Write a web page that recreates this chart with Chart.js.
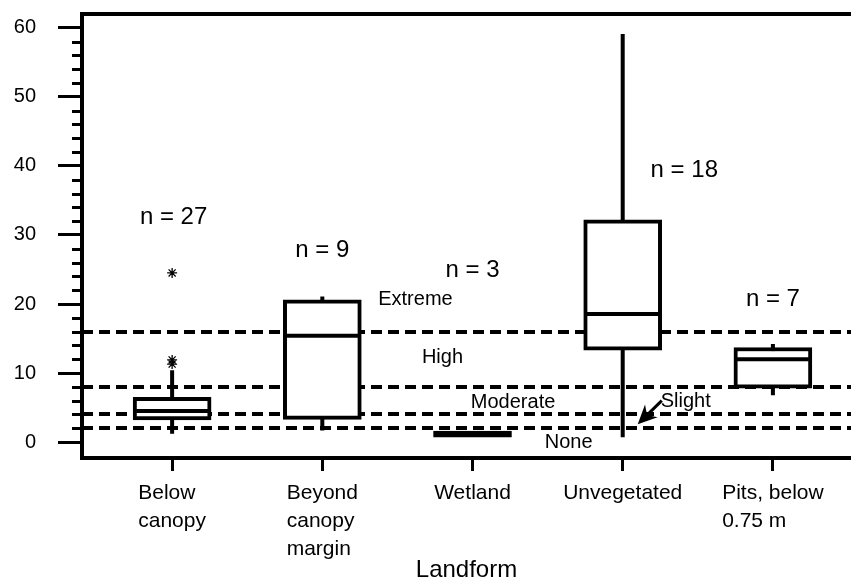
<!DOCTYPE html>
<html><head><meta charset="utf-8">
<script src="https://cdn.jsdelivr.net/npm/chart.js@4.4.1/dist/chart.umd.min.js"></script>
<style>html,body{margin:0;padding:0;background:#fff}#wrap{width:851px;height:588px;position:relative}canvas{display:block}</style>
</head><body><div id="wrap"><canvas id="c" width="851" height="588" style="width:851px;height:588px"></canvas></div>
<script>
// ---- data ----
const categories = [["Below","canopy"],["Beyond","canopy","margin"],["Wetland"],["Unvegetated"],["Pits, below","0.75 m"]];
const sampleSizes = [27, 9, 3, 18, 7];
const whiskerLow  = [1.2, 1.7, 0.8, 0.7, 6.8];
const quartile1   = [3.2, 3.3, 0.7, 13.3, 7.8];
const medians     = [4.5, 15.4, 1.2, 18.55, 12.0];
const quartile3   = [6.5, 20.6, 1.6, 32.2, 13.7];
const whiskerHigh = [10.4, 21.1, 1.6, 59.1, 14.2];
const outlierCategory = [1, 1, 1];
const outlierValues   = [11.3, 11.9, 24.5];
const thresholds  = [2, 4, 8, 16];
const levelNames  = ["None", "Slight", "Moderate", "High", "Extreme"];
const yTickValues = [0, 10, 20, 30, 40, 50, 60];

// ---- placement of annotations (in axis units) ----
const nLabelPos = [[1.01, 32.5], [2, 27.7], [3, 24.9], [4.41, 39.4], [5, 20.6]];
const levelLabelPos = [[3.64, 0], [4.42, 5.85], [3.27, 5.8], [2.80, 12.3], [2.62, 20.6]];
const arrowFrom = [4.26, 6.0], arrowTo = [4.10, 2.6];

const FONT = '"Liberation Sans", Arial, Helvetica, sans-serif';
const X_MIN = 0.4, X_MAX = 5.52, Y_MIN = -2.3, Y_MAX = 62;

const idx = categories.map((c, i) => i + 1);

const whiskerData = [];
idx.forEach((x, i) => {
  whiskerData.push({x, y: whiskerLow[i]}, {x, y: whiskerHigh[i]}, {x, y: null});
});

const noPad = s => { s.paddingTop = 0; s.paddingBottom = 0; s.paddingLeft = 0; s.paddingRight = 0; };

const annotPlugin = {
  id: 'annot',
  afterDraw(chart) {
    const {ctx, scales: {x, y}, chartArea} = chart;
    ctx.save();
    ctx.fillStyle = '#000';
    ctx.strokeStyle = '#000';
    ctx.lineWidth = 3;
    for (let v = 2; v < 61; v += 2) {
      if (v % 10 === 0) continue;
      const py = Math.round(y.getPixelForValue(v)) + 0.5;
      ctx.beginPath();
      ctx.moveTo(chartArea.left - 10, py);
      ctx.lineTo(chartArea.left, py);
      ctx.stroke();
    }
    ctx.font = '21px ' + FONT;
    ctx.textBaseline = 'middle';
    ctx.textAlign = 'left';
    categories.forEach((lines, i) => {
      const px = x.getPixelForValue(idx[i]);
      const w = Math.max(...lines.map(l => ctx.measureText(l).width));
      lines.forEach((l, k) => {
        ctx.fillText(l, px - w / 2, chartArea.bottom + 35 + k * 28);
      });
    });
    ctx.textAlign = 'center';
    ctx.font = '24px ' + FONT;
    sampleSizes.forEach((n, i) => {
      ctx.fillText('n = ' + n, x.getPixelForValue(nLabelPos[i][0]), y.getPixelForValue(nLabelPos[i][1]));
    });
    ctx.font = '20px ' + FONT;
    levelNames.forEach((t, i) => {
      ctx.fillText(t, x.getPixelForValue(levelLabelPos[i][0]), y.getPixelForValue(levelLabelPos[i][1]));
    });
    const x0 = x.getPixelForValue(arrowFrom[0]), y0 = y.getPixelForValue(arrowFrom[1]);
    const x1 = x.getPixelForValue(arrowTo[0]), y1 = y.getPixelForValue(arrowTo[1]);
    const ang = Math.atan2(y1 - y0, x1 - x0);
    ctx.lineWidth = 3;
    ctx.beginPath();
    ctx.moveTo(x0, y0);
    ctx.lineTo(x1 - 8 * Math.cos(ang), y1 - 8 * Math.sin(ang));
    ctx.stroke();
    const L = 19, W = 9;
    const bx = x1 - L * Math.cos(ang), by = y1 - L * Math.sin(ang);
    const nx = x1 - (L - 6) * Math.cos(ang), ny = y1 - (L - 6) * Math.sin(ang);
    ctx.beginPath();
    ctx.moveTo(x1, y1);
    ctx.lineTo(bx + W * Math.sin(ang), by - W * Math.cos(ang));
    ctx.lineTo(nx, ny);
    ctx.lineTo(bx - W * Math.sin(ang), by + W * Math.cos(ang));
    ctx.closePath();
    ctx.fill();
    ctx.restore();
  }
};

new Chart(document.getElementById('c'), {
  type: 'bar',
  data: {
    datasets: [
      {
        type: 'scatter', label: 'outliers', order: 0,
        data: outlierValues.map((v, i) => ({x: outlierCategory[i], y: v})),
        pointStyle: 'star', pointRadius: 5, borderColor: '#000', borderWidth: 1.3, backgroundColor: '#000'
      },
      {
        type: 'scatter', label: 'median', order: 1,
        data: medians.map((v, i) => ({x: idx[i], y: v})),
        pointStyle: 'line', pointRadius: 36, borderColor: '#000', borderWidth: 4
      },
      {
        type: 'bar', label: 'box', order: 2,
        data: quartile1.map((v, i) => ({x: idx[i], y: [v, quartile3[i]]})),
        backgroundColor: '#fff', borderColor: '#000', borderWidth: 4, borderSkipped: false,
        barThickness: 78
      },
      {
        type: 'line', label: 'whiskers', order: 3,
        data: whiskerData, borderColor: '#000', borderWidth: 4, pointRadius: 0, spanGaps: false, fill: false
      }
    ]
  },
  options: {
    responsive: false,
    animation: false,
    events: [],
    devicePixelRatio: 1,
    layout: {padding: 0, autoPadding: false},
    plugins: {legend: {display: false}, tooltip: {enabled: false}},
    scales: {
      x: {
        type: 'linear', min: X_MIN, max: X_MAX, offset: false,
        afterBuildTicks: s => { s.ticks = idx.map(v => ({value: v})); },
        afterFit: s => { s.height = 130; noPad(s); },
        ticks: {display: false},
        grid: {offset: false, drawOnChartArea: false, drawTicks: true, tickLength: 13, tickWidth: 3, tickColor: '#000'},
        border: {display: true, color: '#000', width: 4},
        title: {display: true, text: 'Landform', color: '#000', font: {family: FONT, size: 24}, padding: {top: 0, bottom: 3}}
      },
      xTop: {
        type: 'linear', position: 'top', min: X_MIN, max: X_MAX, offset: false,
        afterFit: s => { s.height = 14; noPad(s); },
        ticks: {display: false},
        grid: {offset: false, drawOnChartArea: false, drawTicks: false},
        border: {display: true, color: '#000', width: 4}
      },
      y: {
        type: 'linear', min: Y_MIN, max: Y_MAX,
        afterBuildTicks: s => { s.ticks = yTickValues.map(v => ({value: v})); },
        afterFit: s => { s.width = 82; noPad(s); },
        ticks: {color: '#000', font: {family: FONT, size: 20}, padding: 22},
        grid: {drawOnChartArea: false, tickLength: 24, tickWidth: 3, tickColor: '#000'},
        border: {display: true, color: '#000', width: 4}
      },
      yRef: {
        type: 'linear', position: 'right', min: Y_MIN, max: Y_MAX, z: 1,
        afterBuildTicks: s => { s.ticks = thresholds.map(v => ({value: v})); },
        afterFit: s => { s.width = 0; noPad(s); },
        ticks: {display: false},
        grid: {drawOnChartArea: true, drawTicks: false, lineWidth: 4, color: '#000'},
        border: {display: false, dash: [11, 6]}
      }
    }
  },
  plugins: [annotPlugin]
});
</script>
</body></html>
